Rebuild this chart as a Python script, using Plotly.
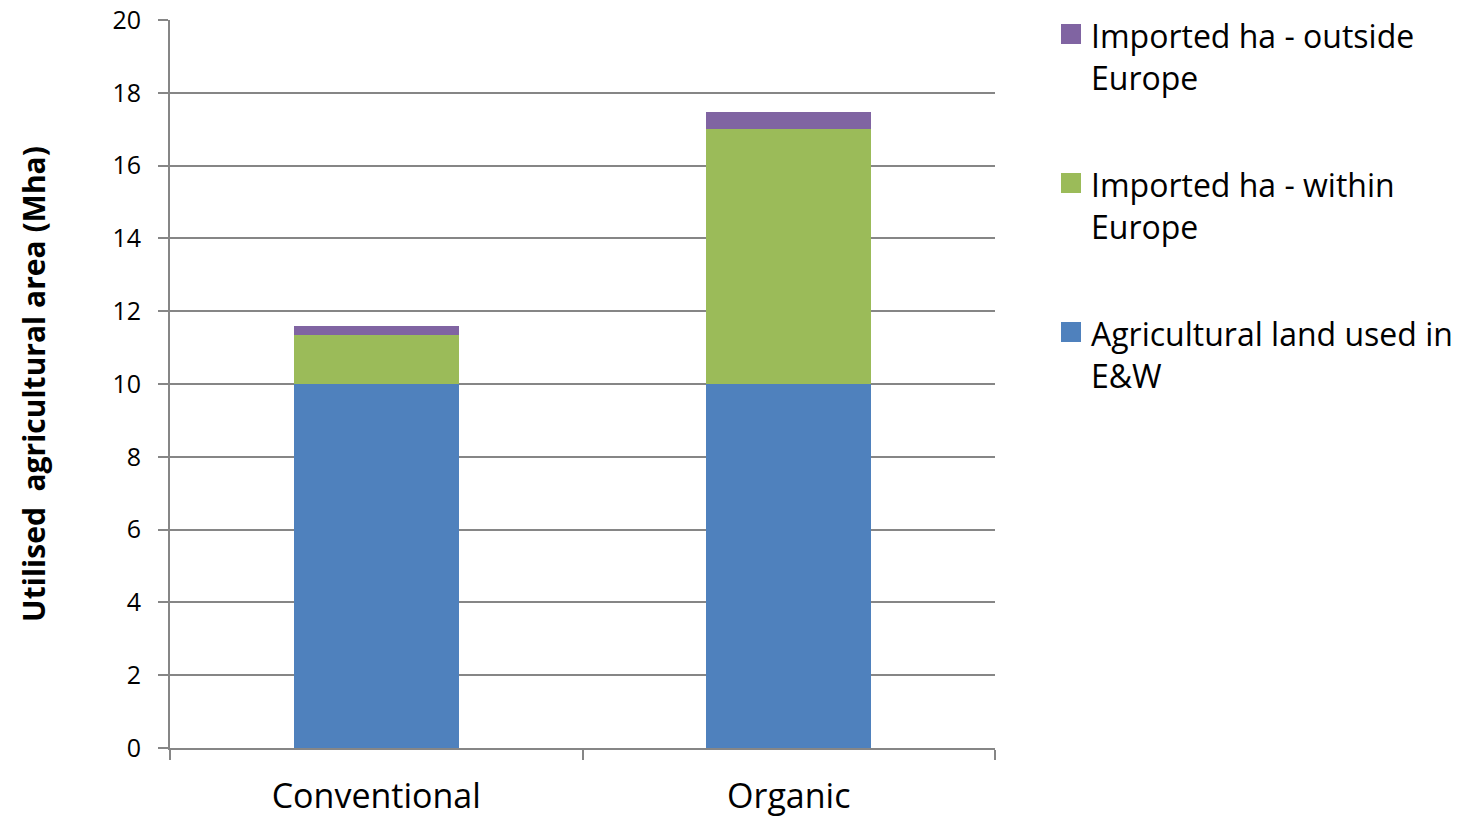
import plotly.graph_objects as go

# Land-use footprint by farming system (million hectares)
categories = ["Conventional", "Organic"]
land_ew = [10.0, 10.0]
imported_within = [1.34, 7.0]
imported_outside = [0.25, 0.47]

series_names = [
    "Agricultural land used in<br>E&W",
    "Imported ha - within<br>Europe",
    "Imported ha - outside<br>Europe",
]
series_values = [land_ew, imported_within, imported_outside]
series_colors = ["#4F81BD", "#9BBB59", "#8064A2"]

y_ticks = [0, 2, 4, 6, 8, 10, 12, 14, 16, 18, 20]

fig = go.Figure()
for name, vals, col in zip(series_names, series_values, series_colors):
    fig.add_trace(go.Bar(
        x=categories, y=vals, name=name,
        marker=dict(color=col, line=dict(width=0)),
        showlegend=False,
    ))

# Hand-built legend on the right: topmost stack segment listed first
plot_top, plot_bottom = 20, 748
plot_h = plot_bottom - plot_top
def py(px):
    return (plot_bottom - px) / plot_h

for k, (name, col) in enumerate(zip(series_names[::-1], series_colors[::-1])):
    line_mid = 34 + k * 149
    fig.add_shape(
        type="rect", xref="paper", yref="paper",
        x0=(1061 - 170) / 825, x1=(1081 - 170) / 825,
        y0=py(line_mid + 10), y1=py(line_mid - 10),
        fillcolor=col, line=dict(width=0),
    )
    fig.add_annotation(
        xref="paper", yref="paper",
        x=(1089 - 170) / 825, y=py(line_mid + 22.5),
        xanchor="left", yanchor="middle", align="left",
        text=name, showarrow=False,
        font=dict(size=32, family="Open Sans", color="black"),
    )

grid = "#868686"
fig.update_layout(
    barmode="stack",
    bargap=0.6,
    width=1466, height=825,
    margin=dict(l=170, r=471, t=20, b=77, autoexpand=False),
    plot_bgcolor="white",
    paper_bgcolor="white",
    font=dict(family="Open Sans", color="black"),
    showlegend=False,
)
fig.update_xaxes(
    showline=True, linecolor=grid, linewidth=2,
    ticks="outside", tickson="boundaries", ticklen=10, tickcolor=grid, tickwidth=1.5,
    tickfont=dict(size=34, family="Open Sans"),
    ticklabelstandoff=17,
    showgrid=False,
)
fig.update_yaxes(
    range=[0, 20], tickvals=y_ticks,
    showline=True, linecolor=grid, linewidth=2,
    ticks="outside", ticklen=10, tickcolor=grid, tickwidth=1.5,
    showgrid=True, gridcolor=grid, gridwidth=1.8,
    zeroline=False,
    tickfont=dict(size=25, family="Open Sans"),
    ticklabelstandoff=12,
    title=dict(
        text="<b>Utilised  agricultural area (Mha)</b>",
        font=dict(size=30, family="Open Sans"),
        standoff=58,
    ),
)

fig.write_html("out.html")
